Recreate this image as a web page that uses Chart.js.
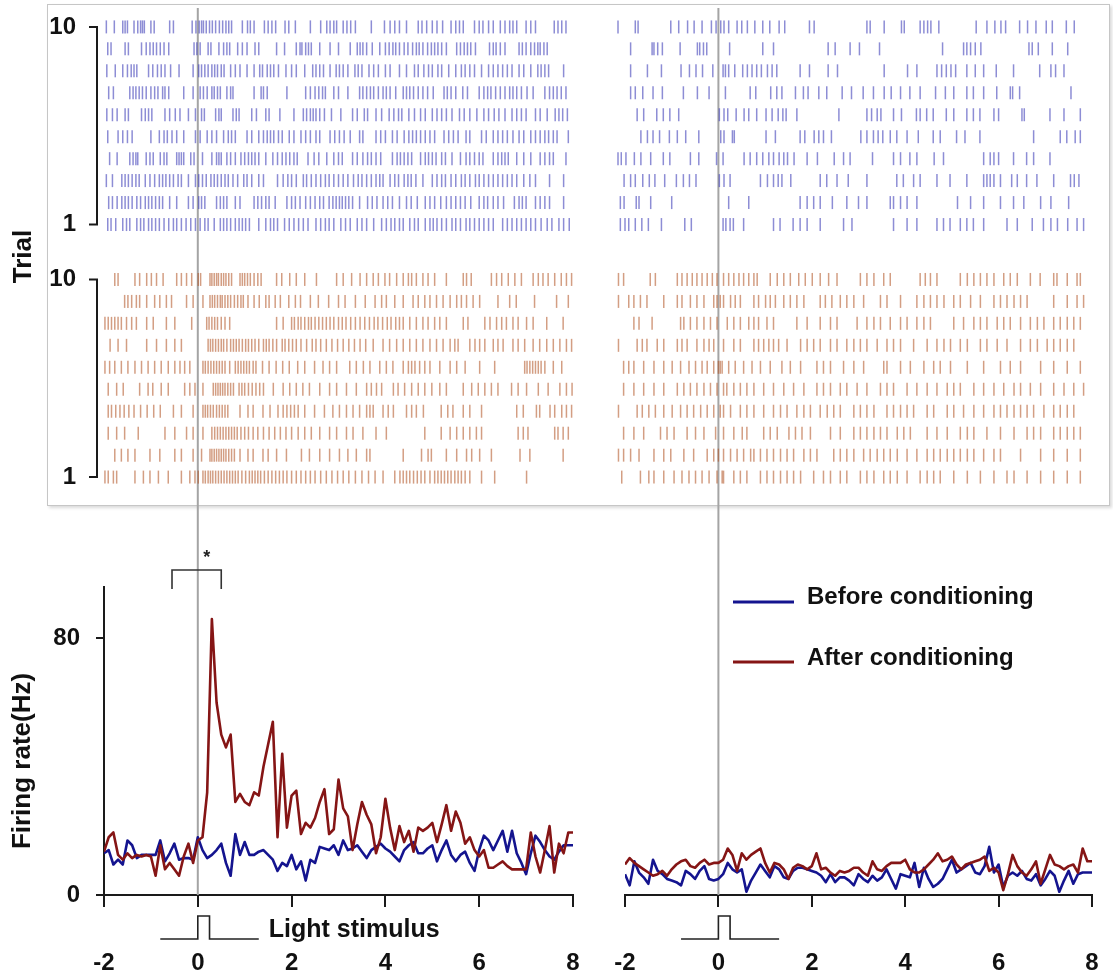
<!DOCTYPE html>
<html>
<head>
<meta charset="utf-8">
<title>Spike rasters and firing rate before / after conditioning</title>
<script src="https://cdn.jsdelivr.net/npm/chart.js@4.4.1/dist/chart.umd.min.js"></script>
<style>
  html, body { margin: 0; padding: 0; background: #fff; }
  #page { position: relative; width: 1113px; height: 975px; overflow: hidden; }
  #rasterBox { position: absolute; left: 47px; top: 4px; width: 1061px; height: 500px;
    border: 1px solid #c6c6c6; box-shadow: 2px 2px 3px rgba(0, 0, 0, 0.15); }
  canvas { position: absolute; }
</style>
</head>
<body>
<div id="page">
  <div id="rasterBox"></div>
  <canvas id="rasterLeft" width="600" height="540" style="left:0;top:0"></canvas>
  <canvas id="rasterRight" width="513" height="540" style="left:600px;top:0"></canvas>
  <canvas id="rateLeft" width="600" height="435" style="left:0;top:540px"></canvas>
  <canvas id="rateRight" width="513" height="435" style="left:600px;top:540px"></canvas>
</div>
<script>
const FONT = '"Liberation Sans", Arial, Helvetica, sans-serif';
Chart.defaults.font.family = FONT;
Chart.defaults.color = '#111';

// time axis (s)
const timeMin = -2;
const timeMax = 8;
const timeTicks = [-2, 0, 2, 4, 6, 8];
const binStart = -2;
const binWidth = 0.1;

// firing rate axis (Hz)
const rateMax = 96;
const rateTicks = [0, 80];
const trialTicks = [1, 10];

// light stimulus and significance bracket (s)
const stimOn = 0;
const stimOff = 0.25;
const stimTrace = [-0.8, 1.3];
const sigBracket = [-0.55, 0.5];
const sigMarkAt = 0.19;

const seriesNames = ['Before conditioning', 'After conditioning'];
const lineColors = ['#14148f', '#851515'];
const spikeColors = ['rgba(65, 65, 185, 0.6)', 'rgba(175, 78, 30, 0.55)'];

// firing rate, 0.1 s bins from -2 to 8 s
const beforeLeftRate = [
  13, 14, 9.5, 11, 9.5, 17, 15.5, 11.5, 12.5, 12.5,
  12.5, 12.5, 17, 10.5, 13, 16, 11, 11.5, 11.5, 11,
  18, 14, 11.5, 12.5, 14, 16, 10, 6, 19, 12.5,
  16.5, 12.5, 12.5, 13.5, 14, 12.5, 11, 7.5, 10, 9,
  12.5, 8, 10.5, 4.5, 11, 10, 15, 14.5, 14, 15.5,
  12.5, 17, 14, 14.5, 15.5, 13.5, 11.5, 14, 15, 16,
  14.5, 13.5, 12, 10.5, 14, 15.5, 16.5, 13, 13, 14.5,
  15.5, 10.5, 14, 17, 12.5, 10.5, 12.5, 13.5, 10, 7.5,
  14, 18.5, 17, 14, 17, 20, 13.5, 20, 13, 10,
  6.5, 13, 18.5, 16.5, 14, 12, 11, 13.5, 15.5, 15.5,
  15.5
];
const afterLeftRate = [
  13.5, 18, 19.5, 12.5, 11, 13, 11.5, 12.5, 12, 12.5,
  12, 6, 15.5, 8, 10, 8, 6, 12, 16, 10,
  17, 18, 32, 86, 60, 50, 46, 50, 29, 31.5,
  29, 28, 32, 31, 40, 47, 54, 18, 44, 21,
  31, 32.5, 19, 22.5, 21, 24, 29, 33, 19, 20.5,
  36, 27, 24.5, 14, 22, 29, 25, 22, 13, 18,
  30, 21, 14, 21.5, 16.5, 20, 13.5, 21, 20, 21,
  22.5, 16.5, 22, 28, 20, 26, 22.5, 16, 18, 14,
  12, 14, 8.5, 8.5, 9.5, 10.5, 9, 8, 8, 8,
  8, 19.5, 12, 7, 14, 21.5, 7, 16, 13, 19.5,
  19.5
];
const beforeRightRate = [
  6.5, 3, 10.5, 7, 5.5, 3.5, 11, 7.5, 6.5, 5,
  4.5, 4, 3, 7.5, 6.5, 5, 7.5, 9, 5, 4.5,
  5, 6.5, 10, 8, 7, 8, 1, 4.5, 7, 9.5,
  7.5, 5.5, 9, 8, 5.5, 5, 7.5, 8.5, 8.5, 8,
  7.5, 7, 6, 4, 6.5, 4, 5.5, 5.5, 4.5, 3,
  6.5, 5, 4, 6, 4.5, 5.5, 8, 5, 2, 6.5,
  6, 5.5, 10, 2.5, 8.5, 5, 2.5, 3.5, 5, 8,
  11, 7, 8, 9, 10, 7, 6.5, 9, 15, 7,
  9.5, 2.5, 6, 7, 6, 7.5, 5, 4.5, 6.5, 3,
  5, 7.5, 6, 1, 4.5, 7.5, 3.5, 6.5, 7, 7,
  7
];
const afterRightRate = [
  9.5, 11.5, 10, 9, 8, 7, 6, 6.5, 7.5, 6,
  8, 9.5, 10.5, 11, 9, 8.5, 10, 11, 9.5, 10,
  10, 11, 14.5, 12.5, 7.5, 13, 11, 12.5, 13.5, 14.5,
  10, 7, 10, 9.5, 8, 5, 8.5, 9.5, 9, 8,
  9, 13, 8, 8.5, 7, 6, 7.5, 7, 7.5, 8.5,
  8.5, 7, 6, 10.5, 8, 7.5, 9, 10, 10, 10,
  11, 8, 7, 7, 8, 9.5, 11, 13, 10.5, 11,
  12, 9.5, 8, 9.5, 10, 10.5, 11, 12, 7.5, 8.5,
  7, 1.5, 6.5, 12.5, 9, 7, 6, 8, 10.5, 3.5,
  8, 12.5, 9.5, 9, 8, 9, 9.5, 7, 14.5, 10.5,
  10.5
];

// spike times (s), one list per trial, trial 10 first
const beforeLeftSpikes = [
  [-1.95,-1.78,-1.6,-1.55,-1.5,-1.36,-1.28,-1.22,-1.18,-1.14,-1,-0.93,-0.6,-0.52,-0.12,-0.04,0.03,0.08,0.12,0.18,0.25,0.31,0.38,0.46,0.53,0.6,0.66,0.72,0.95,1.06,1.12,1.2,1.42,1.5,1.58,1.66,1.86,1.94,2.08,2.4,2.62,2.75,2.82,2.9,2.96,3.1,3.18,3.26,3.36,3.7,3.98,4.1,4.2,4.3,4.45,4.7,4.78,4.88,5,5.1,5.22,5.4,5.5,5.58,5.66,5.9,6,6.08,6.2,6.3,6.45,6.55,6.65,6.72,6.8,7,7.1,7.2,7.6,7.68,7.76,7.85],
  [-1.92,-1.85,-1.55,-1.48,-1.2,-1.1,-1.02,-0.95,-0.88,-0.8,-0.72,-0.62,-0.08,-0.02,0.05,0.22,0.28,0.45,0.55,0.62,0.68,0.85,0.95,1.05,1.22,1.3,1.68,1.85,2.1,2.18,2.22,2.3,2.36,2.42,2.6,2.82,3,3.25,3.4,3.46,3.52,3.6,3.72,3.88,4,4.08,4.16,4.22,4.3,4.4,4.48,4.58,4.66,4.72,4.8,4.9,4.98,5.05,5.12,5.2,5.3,5.52,5.6,5.68,5.75,5.82,5.92,6.22,6.3,6.36,6.45,6.55,6.85,6.92,7,7.1,7.18,7.25,7.3,7.38,7.45],
  [-1.94,-1.76,-1.6,-1.5,-1.42,-1.36,-1.3,-1.05,-0.96,-0.86,-0.78,-0.7,-0.58,-0.4,-0.1,0.02,0.08,0.15,0.22,0.3,0.36,0.42,0.5,0.56,0.7,0.8,0.9,1.05,1.2,1.32,1.38,1.48,1.55,1.62,1.72,1.88,2,2.1,2.28,2.45,2.52,2.6,2.68,2.82,2.95,3.02,3.1,3.2,3.35,3.42,3.5,3.65,3.75,3.85,4,4.1,4.3,4.45,4.62,4.7,4.82,4.92,5,5.12,5.2,5.35,5.5,5.62,5.7,5.8,5.9,6.05,6.2,6.3,6.4,6.5,6.6,6.7,6.85,6.95,7.1,7.25,7.32,7.4,7.48,7.8],
  [-1.9,-1.8,-1.45,-1.38,-1.32,-1.25,-1.18,-1.1,-1,-0.92,-0.85,-0.75,-0.7,-0.62,-0.3,-0.1,0.05,0.12,0.2,0.3,0.35,0.42,0.48,0.62,0.7,0.75,1.2,1.35,1.4,1.48,1.9,2.3,2.4,2.5,2.58,2.66,2.72,2.9,3,3.2,3.45,3.52,3.6,3.68,3.75,3.85,3.95,4.02,4.1,4.22,4.38,4.45,4.52,4.6,4.7,4.8,4.9,5.02,5.25,5.32,5.4,5.5,5.65,5.75,6,6.1,6.18,6.25,6.35,6.45,6.55,6.65,6.72,6.8,6.9,7.02,7.15,7.4,7.5,7.58,7.66,7.75,7.85],
  [-1.94,-1.82,-1.72,-1.55,-1.48,-1.2,-1.12,-1.05,-0.98,-0.7,-0.6,-0.48,-0.38,-0.2,-0.05,0.08,0.14,0.38,0.45,0.5,0.75,0.82,0.88,1.15,1.25,1.45,1.52,1.75,2.05,2.25,2.32,2.4,2.46,2.52,2.6,2.7,2.85,3.05,3.3,3.4,3.55,3.62,3.8,3.92,4.08,4.18,4.28,4.35,4.5,4.62,4.75,4.85,5,5.1,5.2,5.3,5.42,5.58,5.68,5.8,5.95,6.1,6.2,6.32,6.42,6.55,6.7,6.8,6.9,7,7.2,7.3,7.45,7.62,7.7,7.78,7.88],
  [-1.92,-1.7,-1.6,-1.5,-1.4,-1,-0.82,-0.72,-0.65,-0.55,-0.45,-0.3,-0.05,0.05,0.2,0.3,0.4,0.55,0.65,0.72,0.8,1.05,1.15,1.3,1.4,1.48,1.55,1.62,1.72,1.8,1.95,2.05,2.2,2.3,2.4,2.52,2.6,2.82,2.92,3.02,3.12,3.25,3.45,3.52,3.8,3.9,4,4.15,4.25,4.4,4.5,4.58,4.66,4.75,4.85,4.95,5.05,5.25,5.35,5.45,5.55,5.72,5.8,6.05,6.15,6.3,6.4,6.5,6.6,6.72,6.85,6.95,7.1,7.2,7.3,7.4,7.48,7.58,7.66,7.9],
  [-1.88,-1.72,-1.45,-1.38,-1.32,-1.28,-1.1,-1.02,-0.95,-0.8,-0.72,-0.66,-0.45,-0.4,-0.35,-0.3,-0.15,-0.08,0.1,0.3,0.4,0.45,0.5,0.62,0.7,0.8,0.92,1,1.08,1.15,1.22,1.3,1.45,1.6,1.7,1.8,1.88,1.96,2.05,2.12,2.35,2.48,2.58,2.75,2.9,3,3.08,3.3,3.4,3.52,3.62,3.7,3.8,3.9,4.15,4.25,4.32,4.4,4.48,4.56,4.75,4.85,4.92,5,5.08,5.2,5.28,5.42,5.6,5.72,5.8,5.9,6,6.08,6.3,6.4,6.48,6.55,6.62,6.8,6.95,7.1,7.3,7.4,7.5,7.58,7.85],
  [-1.95,-1.82,-1.62,-1.55,-1.48,-1.4,-1.32,-1.25,-1.12,-1.02,-0.92,-0.82,-0.75,-0.68,-0.6,-0.52,-0.42,-0.35,-0.2,-0.05,0.02,0.1,0.18,0.28,0.35,0.42,0.5,0.58,0.65,0.75,0.85,0.98,1.05,1.15,1.3,1.4,1.7,1.82,1.92,2,2.1,2.25,2.32,2.42,2.52,2.62,2.72,2.8,2.9,3,3.1,3.2,3.32,3.42,3.5,3.6,3.7,3.8,3.88,3.95,4.1,4.2,4.28,4.4,4.48,4.55,4.65,4.8,5,5.1,5.2,5.28,5.4,5.5,5.62,5.7,5.8,5.92,6,6.1,6.2,6.3,6.4,6.5,6.6,6.7,6.8,6.95,7.08,7.2,7.5,7.8],
  [-1.9,-1.82,-1.72,-1.62,-1.55,-1.48,-1.4,-1.3,-1.22,-1.12,-1.05,-0.98,-0.9,-0.82,-0.75,-0.6,-0.45,-0.2,-0.1,0.02,0.08,0.15,0.4,0.48,0.55,0.62,0.8,0.9,1.2,1.28,1.36,1.45,1.52,1.65,1.9,2,2.08,2.18,2.3,2.4,2.5,2.6,2.68,2.8,2.88,2.95,3.02,3.08,3.15,3.22,3.3,3.45,3.62,3.72,3.82,3.95,4.05,4.15,4.3,4.45,4.55,4.68,4.85,4.95,5.05,5.18,5.3,5.4,5.5,5.6,5.7,5.82,6,6.1,6.18,6.3,6.4,6.52,6.75,6.85,6.92,7,7.2,7.3,7.4,7.5,7.8],
  [-1.92,-1.85,-1.75,-1.6,-1.52,-1.45,-1.3,-1.22,-1.15,-1.05,-0.98,-0.9,-0.82,-0.72,-0.62,-0.52,-0.45,-0.35,-0.25,-0.15,-0.05,0.05,0.15,0.22,0.35,0.48,0.55,0.62,0.7,0.8,0.88,0.95,1.02,1.1,1.3,1.45,1.55,1.62,1.7,1.85,1.95,2.05,2.15,2.25,2.35,2.52,2.62,2.72,2.8,2.9,3.05,3.15,3.25,3.4,3.5,3.6,3.75,3.92,4.02,4.12,4.2,4.3,4.38,4.52,4.62,4.7,4.85,4.95,5.02,5.1,5.2,5.3,5.42,5.5,5.6,5.72,5.8,5.9,6,6.1,6.2,6.3,6.5,6.6,6.7,6.8,6.9,7,7.1,7.2,7.32,7.45,7.55,7.7,7.8,7.92]
];
const beforeRightSpikes = [
  [-2.15,-1.78,-1.72,-1.02,-0.85,-0.66,-0.52,-0.35,-0.15,-0.05,0.05,0.12,0.22,0.4,0.5,0.62,0.78,0.95,1.1,1.3,1.42,1.95,2.05,3.18,3.25,3.55,3.92,3.98,4.32,4.4,4.48,4.55,4.72,5.52,5.75,5.92,6.05,6.15,6.45,6.62,6.8,7.02,7.15,7.45,7.62],
  [-1.88,-1.42,-1.38,-1.3,-1.2,-0.82,-0.45,-0.4,-0.32,-0.25,0.24,0.95,1.18,2.35,2.5,2.82,3.02,3.45,4.8,5.25,5.32,5.4,5.5,5.62,6.65,6.72,6.85,7.15,7.48],
  [-1.88,-1.52,-1.22,-0.8,-0.62,-0.48,-0.34,-0.12,0.1,0.15,0.22,0.35,0.52,0.62,0.72,0.82,0.92,1.05,1.15,1.25,1.75,1.95,2.35,2.55,3.55,4.05,4.25,4.68,4.78,4.88,4.98,5.08,5.32,5.5,5.68,5.95,6.32,6.88,7.12,7.22,7.4],
  [-1.88,-1.78,-1.62,-1.4,-1.2,-0.75,-0.45,-0.2,0.15,0.68,0.8,1.12,1.25,1.36,1.65,1.82,1.92,2.15,2.32,2.65,2.85,3.1,3.32,3.55,3.7,3.9,4.1,4.32,4.65,4.86,5.04,5.32,5.46,5.68,5.96,6.25,6.3,6.45,7.55],
  [-1.74,-1.6,-1.32,-1.18,-1.04,-0.85,0.02,0.12,0.2,0.38,0.55,0.65,0.82,1.02,1.15,1.28,1.38,1.45,1.68,2.58,3.18,3.28,3.4,3.48,3.75,3.92,4.24,4.32,4.46,4.6,4.88,5.04,5.32,5.46,5.6,5.9,6,6.5,6.55,7.1,7.4,7.75],
  [-1.66,-1.52,-1.4,-1.26,-1.05,-0.88,-0.7,-0.42,0.05,0.12,0.3,0.34,1.02,1.22,1.75,1.85,2.05,2.15,2.25,2.42,3.05,3.18,3.32,3.42,3.52,3.68,3.82,4.04,4.28,4.6,4.75,5.1,5.28,5.6,6.75,7.32,7.46,7.64,7.75],
  [-2.15,-2.08,-1.98,-1.8,-1.66,-1.45,-1.18,-1.04,-0.6,-0.42,-0.04,0.1,0.55,0.68,0.82,0.95,1.08,1.18,1.3,1.4,1.48,1.62,1.9,2.12,2.48,2.68,2.82,3.3,3.75,3.9,4.1,4.25,4.62,4.82,5.68,5.82,5.9,6,6.32,6.6,6.75,7.1],
  [-2.02,-1.88,-1.78,-1.62,-1.48,-1.36,-1.15,-0.9,-0.75,-0.62,-0.48,0.02,0.12,0.25,0.9,1.05,1.18,1.28,1.36,1.55,2.18,2.32,2.54,2.78,3.18,3.82,3.96,4.18,4.32,4.68,4.96,5.32,5.68,5.75,5.82,5.9,6.04,6.28,6.4,6.6,6.82,7.18,7.54,7.62,7.72],
  [-2.1,-2.02,-1.76,-1.7,-1.45,-1,0.22,0.65,1.75,1.9,2.04,2.18,2.44,2.75,3,3.18,3.68,3.75,3.9,4.04,4.25,5.12,5.4,5.68,6.04,6.32,6.54,6.9,7.12,7.5],
  [-2.1,-2,-1.92,-1.78,-1.64,-1.5,-1.22,-0.72,-0.58,0.1,0.16,0.25,0.32,0.54,1.18,1.32,1.6,1.75,1.9,2.18,2.68,2.86,3.75,4.04,4.25,4.68,4.82,4.96,5.18,5.32,5.46,5.68,6.18,6.4,6.72,6.96,7.12,7.26,7.48,7.68,7.82]
];
const afterLeftSpikes = [
  [-1.77,-1.7,-1.34,-1.24,-1.09,-0.99,-0.88,-0.74,-0.45,-0.35,-0.24,-0.13,0.01,0.06,0.26,0.3,0.35,0.4,0.44,0.5,0.55,0.6,0.66,0.72,0.9,0.95,1,1.06,1.12,1.2,1.28,1.35,1.68,1.79,1.96,2.1,2.28,2.53,2.96,3.1,3.28,3.46,3.6,3.74,3.85,3.99,4.09,4.24,4.38,4.49,4.56,4.66,4.8,4.91,5.05,5.3,5.66,5.73,5.83,6.26,6.37,6.48,6.62,6.76,6.9,7.15,7.26,7.36,7.47,7.61,7.75,7.86,7.97],
  [-1.56,-1.49,-1.41,-1.31,-1.24,-1.09,-0.92,-0.81,-0.67,-0.56,-0.24,-0.1,0.11,0.26,0.31,0.36,0.42,0.48,0.52,0.58,0.64,0.7,0.78,0.85,0.92,0.97,1.07,1.2,1.31,1.45,1.52,1.65,1.76,1.94,2.08,2.19,2.4,2.57,2.79,3,3.14,3.36,3.57,3.78,3.92,4.02,4.2,4.38,4.59,4.7,4.84,4.95,5.09,5.23,5.38,5.52,5.62,5.73,5.87,6.01,6.4,6.65,6.79,7.18,7.65,7.9],
  [-1.98,-1.91,-1.84,-1.77,-1.7,-1.63,-1.52,-1.41,-1.31,-1.09,-0.95,-0.67,-0.49,-0.13,0.19,0.24,0.3,0.36,0.42,0.5,0.58,0.68,1.68,1.82,2,2.06,2.14,2.2,2.28,2.36,2.42,2.5,2.58,2.66,2.74,2.82,2.9,3,3.08,3.16,3.26,3.36,3.46,3.56,3.66,3.76,3.84,3.94,4.04,4.12,4.22,4.3,4.38,4.52,4.66,4.8,4.91,5.05,5.16,5.3,5.66,5.76,6.12,6.23,6.37,6.48,6.58,6.72,6.83,7.01,7.15,7.44,7.79],
  [-1.87,-1.7,-1.52,-1.09,-0.88,-0.67,-0.49,-0.35,0.22,0.27,0.32,0.38,0.44,0.5,0.55,0.62,0.7,0.76,0.82,0.88,0.95,1.02,1.08,1.15,1.22,1.3,1.4,1.46,1.52,1.6,1.68,1.8,1.86,1.94,2.02,2.1,2.2,2.32,2.44,2.52,2.62,2.74,2.86,2.98,3.1,3.22,3.34,3.46,3.58,3.74,3.95,4.09,4.24,4.38,4.52,4.66,4.8,4.95,5.09,5.23,5.38,5.48,5.55,5.8,5.91,6.01,6.12,6.3,6.4,6.51,6.72,6.83,6.97,7.15,7.29,7.44,7.58,7.72,7.86,7.97],
  [-1.98,-1.88,-1.77,-1.63,-1.49,-1.34,-1.2,-1.06,-0.92,-0.78,-0.63,-0.49,-0.38,-0.28,-0.17,0.11,0.16,0.22,0.28,0.34,0.4,0.46,0.52,0.58,0.68,0.8,0.86,0.92,0.98,1.04,1.1,1.18,1.24,1.38,1.52,1.67,1.81,1.95,2.13,2.28,2.49,2.67,2.81,2.96,3.24,3.38,3.53,3.67,3.88,4.02,4.16,4.38,4.49,4.56,4.63,4.73,4.84,4.95,5.16,5.38,5.52,5.7,6.01,6.33,6.97,7.02,7.08,7.14,7.2,7.26,7.32,7.4,7.58,7.76],
  [-1.91,-1.73,-1.59,-1.24,-1.06,-0.96,-0.78,-0.63,-0.28,-0.17,-0.06,0.11,0.33,0.38,0.43,0.48,0.53,0.58,0.64,0.7,0.76,0.88,0.94,1,1.08,1.16,1.24,1.32,1.4,1.61,1.82,1.96,2.1,2.24,2.38,2.6,2.81,2.96,3.17,3.38,3.6,3.7,3.81,3.92,4.17,4.27,4.41,4.56,4.7,4.84,4.99,5.16,5.3,5.66,5.84,5.98,6.12,6.26,6.4,6.69,6.83,7.01,7.26,7.47,7.72,7.86,7.98],
  [-1.91,-1.84,-1.75,-1.66,-1.57,-1.47,-1.36,-1.22,-1.08,-0.94,-0.8,-0.52,-0.35,-0.1,0.11,0.16,0.21,0.27,0.33,0.4,0.46,0.52,0.58,0.64,0.9,1.07,1.18,1.39,1.54,1.71,1.82,1.9,1.98,2.06,2.14,2.28,2.49,2.7,2.88,3.02,3.17,3.31,3.45,3.6,3.67,3.74,3.95,4.06,4.17,4.45,4.56,4.66,4.81,5.19,5.33,5.44,5.66,5.8,6.05,6.8,6.94,7.22,7.29,7.51,7.61,7.76,7.86,7.97],
  [-1.91,-1.73,-1.56,-1.27,-0.7,-0.49,-0.24,-0.1,0.11,0.3,0.36,0.42,0.48,0.54,0.6,0.66,0.72,0.78,0.84,0.92,1,1.08,1.18,1.28,1.4,1.52,1.64,1.76,1.88,2,2.14,2.28,2.42,2.6,2.81,2.96,3.17,3.31,3.52,3.8,4.02,4.84,5.19,5.38,5.52,5.66,5.8,5.94,6.05,6.83,6.94,7.04,7.61,7.68,7.79,7.9],
  [-1.77,-1.63,-1.49,-1.34,-1.02,-0.81,-0.49,-0.35,-0.1,0.08,0.26,0.3,0.35,0.4,0.45,0.5,0.55,0.6,0.66,0.72,0.78,0.9,1.07,1.18,1.39,1.5,1.68,1.89,2.21,2.38,2.6,2.81,3.02,3.2,3.38,3.6,3.67,4.38,4.77,4.91,4.98,5.3,5.52,5.73,5.84,6.01,6.26,6.87,7.08,7.79],
  [-1.98,-1.91,-1.8,-1.73,-1.34,-1.16,-1.02,-0.84,-0.63,-0.35,-0.17,-0.06,0.01,0.11,0.16,0.22,0.27,0.32,0.38,0.44,0.5,0.56,0.62,0.68,0.74,0.8,0.86,0.94,1.02,1.1,1.16,1.22,1.28,1.34,1.42,1.5,1.58,1.66,1.74,1.82,1.9,2,2.1,2.2,2.3,2.4,2.5,2.62,2.74,2.86,2.98,3.1,3.22,3.36,3.5,3.64,3.78,3.95,4.2,4.31,4.38,4.45,4.52,4.6,4.68,4.76,4.84,4.95,5.05,5.12,5.19,5.26,5.33,5.4,5.48,5.55,5.62,5.7,5.8,6.05,6.33,7.01]
];
const afterRightSpikes = [
  [-2.14,-2.03,-1.46,-1.35,-0.88,-0.78,-0.67,-0.56,-0.46,-0.35,-0.24,-0.13,-0.03,0.11,0.22,0.33,0.44,0.54,0.65,0.76,0.83,1.11,1.26,1.4,1.54,1.72,1.86,2.01,2.18,2.36,2.54,3.04,3.18,3.33,3.54,3.68,4.32,4.43,4.54,4.68,5.18,5.33,5.47,5.61,5.75,5.9,6.11,6.25,6.4,6.68,6.89,7.18,7.25,7.47,7.68,7.75],
  [-2.14,-1.92,-1.81,-1.67,-1.53,-1.17,-0.88,-0.78,-0.6,-0.46,-0.31,-0.1,-0.03,0.04,0.11,0.26,0.36,0.47,0.76,0.86,1.01,1.11,1.22,1.4,1.54,1.68,1.83,2.18,2.29,2.43,2.61,2.75,2.9,3.11,3.47,3.61,3.9,4.25,4.4,4.54,4.68,4.83,5.04,5.18,5.4,5.61,5.9,6.04,6.18,6.33,6.47,6.61,7.18,7.47,7.68,7.82],
  [-1.81,-1.7,-1.42,-0.81,-0.74,-0.6,-0.46,-0.31,-0.17,-0.03,0.19,0.33,0.47,0.65,0.76,0.86,1.04,1.18,1.68,1.9,2.18,2.4,2.54,2.97,3.18,3.33,3.47,3.68,3.9,4.04,4.25,4.4,4.54,5.04,5.25,5.47,5.61,5.75,5.97,6.11,6.25,6.47,6.68,6.83,6.97,7.18,7.32,7.47,7.61,7.75],
  [-2.14,-1.74,-1.63,-1.53,-1.31,-1.17,-0.88,-0.78,-0.67,-0.46,-0.31,-0.2,-0.1,0.11,0.33,0.47,0.76,0.86,0.97,1.08,1.18,1.29,1.47,1.76,1.9,2.04,2.18,2.4,2.54,2.75,2.9,3.04,3.18,3.4,3.61,3.75,3.9,4.18,4.47,4.68,4.83,4.97,5.18,5.33,5.61,5.75,5.97,6.18,6.47,6.68,6.83,7.04,7.18,7.32,7.47,7.61],
  [-2.03,-1.92,-1.81,-1.6,-1.38,-1.17,-0.99,-0.81,-0.63,-0.49,-0.35,-0.24,-0.1,0,0.04,0.08,0.22,0.36,0.54,0.72,0.9,1.11,1.36,1.54,1.76,2.11,2.25,2.4,2.68,2.9,3.11,3.54,3.61,3.9,4.11,4.4,4.61,4.75,4.97,5.33,5.68,6.04,6.25,6.47,6.9,7.18,7.47,7.75],
  [-2.03,-1.81,-1.6,-1.38,-1.17,-0.88,-0.74,-0.6,-0.46,-0.31,-0.17,-0.03,0.11,0.18,0.33,0.47,0.61,0.76,0.97,1.18,1.4,1.61,1.83,2.11,2.25,2.4,2.61,2.75,2.97,3.18,3.47,3.61,3.75,4.04,4.25,4.47,4.68,4.9,5.04,5.18,5.47,5.68,5.9,6.11,6.33,6.47,6.68,6.9,7.18,7.4,7.61,7.82],
  [-2.14,-1.74,-1.63,-1.49,-1.35,-1.17,-0.99,-0.81,-0.67,-0.53,-0.38,-0.24,-0.1,0.04,0.11,0.26,0.47,0.61,0.76,0.97,1.18,1.33,1.47,1.68,1.83,1.97,2.18,2.33,2.47,2.61,2.9,3.04,3.18,3.33,3.61,3.75,3.9,4.04,4.18,4.47,4.61,4.9,5.04,5.25,5.47,5.68,5.9,6.04,6.18,6.33,6.47,6.61,6.75,6.97,7.18,7.32,7.47,7.61],
  [-2.03,-1.81,-1.6,-1.24,-1.1,-0.95,-0.67,-0.49,-0.31,-0.06,0.11,0.33,0.51,0.61,0.97,1.11,1.26,1.51,1.65,1.79,1.97,2.4,2.61,2.9,3.04,3.18,3.33,3.47,3.61,3.83,3.97,4.11,4.47,4.68,4.9,5.18,5.33,5.47,5.75,6.04,6.33,6.61,6.75,6.9,7.18,7.32,7.47,7.61,7.75],
  [-2.14,-2.03,-1.88,-1.7,-1.38,-1.17,-1.02,-0.74,-0.53,-0.24,-0.1,0,0.11,0.26,0.4,0.54,0.69,0.76,0.9,1.04,1.18,1.33,1.47,1.61,1.83,1.97,2.11,2.47,2.61,2.75,2.9,3.11,3.25,3.4,3.54,3.68,3.83,4.04,4.25,4.47,4.61,4.75,4.9,5.04,5.18,5.33,5.47,5.68,5.9,6.04,6.47,6.9,7.18,7.47,7.75],
  [-2.07,-1.67,-1.49,-1.38,-1.17,-0.95,-0.78,-0.63,-0.49,-0.35,-0.2,-0.03,0.08,0.11,0.33,0.47,0.61,0.9,1.04,1.18,1.33,1.47,1.61,1.76,2.04,2.25,2.4,2.61,2.75,3.04,3.18,3.33,3.54,3.68,3.83,4.04,4.32,4.47,4.61,4.75,5.04,5.33,5.61,5.9,6.18,6.33,6.61,6.9,7.18,7.47,7.75]
];

// raster rows: after-conditioning trials sit below, before-conditioning above
const afterRow = trial => trial;
const beforeRow = trial => trial + 11.5;
const rasterMin = -0.27;
const rasterMax = 22.36;

function spikeDataset(trials, rowOf, color, label) {
  const points = [];
  trials.forEach((spikes, i) => {
    const trial = trials.length - i;
    spikes.forEach(t => points.push({x: t, y: rowOf(trial)}));
  });
  return {
    label,
    data: points,
    pointStyle: 'line',
    pointRotation: 90,
    pointRadius: 6.5,
    pointHoverRadius: 6.5,
    pointBorderWidth: 1.5,
    borderWidth: 1.5,
    borderColor: color,
    pointBorderColor: color,
    backgroundColor: color,
    clip: false,
  };
}

function rateDataset(values, label, color, order) {
  return {
    label,
    order,
    data: values.map((v, i) => ({x: binStart + i * binWidth, y: v})),
    borderColor: color,
    backgroundColor: color,
    borderWidth: 2.6,
    borderJoinStyle: 'round',
    pointRadius: 0,
    tension: 0,
    fill: false,
  };
}

// fixed axis width; hidden axes take no room
const fixWidth = w => s => {
  s.width = s.options.display ? w : 0;
  s.paddingLeft = 0; s.paddingRight = 0; s.paddingTop = 0; s.paddingBottom = 0;
};
const fixHeight = h => s => {
  s.height = s.options.display ? h : 0;
  s.paddingLeft = 0; s.paddingRight = 0; s.paddingTop = 0; s.paddingBottom = 0;
};

const zeroLine = {
  id: 'zeroLine',
  beforeDatasetsDraw(chart, args, opts) {
    const {ctx, chartArea} = chart;
    const x = chart.scales.x.getPixelForValue(stimOn);
    const top = opts.raster ? chartArea.top : 0;
    const bottom = opts.raster ? chart.height : chartArea.bottom;
    ctx.save();
    ctx.strokeStyle = '#a4a4a4';
    ctx.lineWidth = 2;
    ctx.beginPath();
    ctx.moveTo(x, top);
    ctx.lineTo(x, bottom);
    ctx.stroke();
    ctx.restore();
  }
};

const trialBrackets = {
  id: 'trialBrackets',
  afterDraw(chart) {
    const {ctx} = chart;
    const y = chart.scales.y;
    const right = chart.chartArea.left - 7;
    ctx.save();
    ctx.strokeStyle = '#1a1a1a';
    ctx.lineWidth = 2;
    [[beforeRow(10), beforeRow(1)], [afterRow(10), afterRow(1)]].forEach(([a, b]) => {
      const ya = y.getPixelForValue(a);
      const yb = y.getPixelForValue(b);
      ctx.beginPath();
      ctx.moveTo(right - 8, ya);
      ctx.lineTo(right, ya);
      ctx.lineTo(right, yb);
      ctx.lineTo(right - 8, yb);
      ctx.stroke();
    });
    ctx.restore();
  }
};

const stimulusTrace = {
  id: 'stimulusTrace',
  afterDraw(chart, args, opts) {
    const {ctx, chartArea} = chart;
    const x = chart.scales.x;
    const base = chartArea.bottom + 44;
    const high = chartArea.bottom + 21;
    ctx.save();
    ctx.strokeStyle = '#222';
    ctx.lineWidth = 1.6;
    ctx.beginPath();
    ctx.moveTo(x.getPixelForValue(stimTrace[0]), base);
    ctx.lineTo(x.getPixelForValue(stimOn), base);
    ctx.lineTo(x.getPixelForValue(stimOn), high);
    ctx.lineTo(x.getPixelForValue(stimOff), high);
    ctx.lineTo(x.getPixelForValue(stimOff), base);
    ctx.lineTo(x.getPixelForValue(stimTrace[1]), base);
    ctx.stroke();
    if (opts.label) {
      ctx.fillStyle = '#111';
      ctx.font = 'bold 25px ' + FONT;
      ctx.textAlign = 'left';
      ctx.textBaseline = 'alphabetic';
      ctx.fillText(opts.label, x.getPixelForValue(stimTrace[1]) + 10, chartArea.bottom + 42);
    }
    ctx.restore();
  }
};

const significance = {
  id: 'significance',
  afterDraw(chart) {
    const {ctx, chartArea} = chart;
    const x = chart.scales.x;
    const xa = x.getPixelForValue(sigBracket[0]);
    const xb = x.getPixelForValue(sigBracket[1]);
    const y0 = chartArea.top - 17;
    const y1 = chartArea.top + 2;
    ctx.save();
    ctx.strokeStyle = '#333';
    ctx.lineWidth = 1.6;
    ctx.beginPath();
    ctx.moveTo(xa, y1);
    ctx.lineTo(xa, y0);
    ctx.lineTo(xb, y0);
    ctx.lineTo(xb, y1);
    ctx.stroke();
    ctx.fillStyle = '#222';
    ctx.font = 'bold 18px ' + FONT;
    ctx.textAlign = 'center';
    ctx.textBaseline = 'alphabetic';
    ctx.fillText('*', x.getPixelForValue(sigMarkAt), chartArea.top - 24);
    ctx.restore();
  }
};

const rateTitle = {
  id: 'rateTitle',
  afterDraw(chart, args, opts) {
    const {ctx} = chart;
    ctx.save();
    ctx.translate(23, 221);
    ctx.rotate(-Math.PI / 2);
    ctx.fillStyle = '#111';
    ctx.font = 'bold 26px ' + FONT;
    ctx.textAlign = 'center';
    ctx.textBaseline = 'middle';
    ctx.fillText(opts.text, 0, 0);
    ctx.restore();
  }
};

const lineLegend = {
  id: 'lineLegend',
  afterDraw(chart) {
    const {ctx, chartArea} = chart;
    const x0 = chartArea.left + 108;
    ctx.save();
    chart.data.datasets.forEach((ds, i) => {
      const y = 62 + i * 60;
      ctx.strokeStyle = ds.borderColor;
      ctx.lineWidth = 3;
      ctx.beginPath();
      ctx.moveTo(x0, y);
      ctx.lineTo(x0 + 61, y);
      ctx.stroke();
      ctx.fillStyle = '#111';
      ctx.font = 'bold 24px ' + FONT;
      ctx.textAlign = 'left';
      ctx.textBaseline = 'alphabetic';
      ctx.fillText(ds.label, x0 + 74, y + 2 + i);
    });
    ctx.restore();
  }
};

function rasterChart(id, beforeTrials, afterTrials, xMin, padLeft, padRight, withAxis) {
  return new Chart(document.getElementById(id), {
    type: 'scatter',
    data: {
      datasets: [
        spikeDataset(beforeTrials, beforeRow, spikeColors[0], seriesNames[0]),
        spikeDataset(afterTrials, afterRow, spikeColors[1], seriesNames[1]),
      ],
    },
    options: {
      responsive: false,
      animation: false,
      events: [],
      devicePixelRatio: 1,
      layout: {padding: {left: padLeft, right: padRight, top: 5, bottom: 35}},
      plugins: {legend: {display: false}, tooltip: {enabled: false}, zeroLine: {raster: true}},
      scales: {
        x: {type: 'linear', min: xMin, max: timeMax, display: false},
        y: {
          type: 'linear',
          min: rasterMin,
          max: rasterMax,
          display: withAxis,
          afterBuildTicks: s => {
            s.ticks = [afterRow(trialTicks[0]), afterRow(trialTicks[1]),
              beforeRow(trialTicks[0]), beforeRow(trialTicks[1])].map(v => ({value: v}));
          },
          afterFit: fixWidth(104),
          grid: {display: false, drawTicks: false},
          border: {display: false},
          ticks: {
            autoSkip: false,
            padding: 28,
            color: '#111',
            font: {size: 24, weight: 'bold'},
            callback: (v, i) => String(trialTicks[i % 2]),
          },
          title: {
            display: true,
            text: 'Trial',
            color: '#111',
            font: {size: 26, weight: 'bold'},
            padding: {top: 8, bottom: 0},
          },
        },
      },
    },
    plugins: withAxis ? [zeroLine, trialBrackets] : [zeroLine],
  });
}

function rateChart(id, before, after, padLeft, padRight, withY, extra) {
  return new Chart(document.getElementById(id), {
    type: 'line',
    data: {
      datasets: [
        rateDataset(before, seriesNames[0], lineColors[0], 1),
        rateDataset(after, seriesNames[1], lineColors[1], 0),
      ],
    },
    options: {
      responsive: false,
      animation: false,
      events: [],
      devicePixelRatio: 1,
      layout: {padding: {left: padLeft, right: padRight, top: 47, bottom: 0}},
      plugins: Object.assign({legend: {display: false}, tooltip: {enabled: false}, zeroLine: {raster: false}}, extra.options),
      scales: {
        x: {
          type: 'linear',
          min: timeMin,
          max: timeMax,
          afterBuildTicks: s => { s.ticks = timeTicks.map(v => ({value: v})); },
          afterFit: fixHeight(80),
          grid: {drawOnChartArea: false, tickLength: 12, color: '#1a1a1a', lineWidth: 2},
          border: {color: '#1a1a1a', width: 2},
          ticks: {autoSkip: false, maxRotation: 0, padding: 42, color: '#111', font: {size: 24, weight: 'bold'}},
        },
        y: {
          type: 'linear',
          min: 0,
          max: rateMax,
          display: withY,
          afterBuildTicks: s => { s.ticks = rateTicks.map(v => ({value: v})); },
          afterFit: fixWidth(104),
          grid: {drawOnChartArea: false, tickLength: 8, color: '#1a1a1a', lineWidth: 2},
          border: {color: '#1a1a1a', width: 2},
          ticks: {autoSkip: false, padding: 16, color: '#111', font: {size: 24, weight: 'bold'}},
        },
      },
    },
    plugins: [zeroLine, stimulusTrace].concat(extra.plugins),
  });
}

rasterChart('rasterLeft', beforeLeftSpikes, afterLeftSpikes, -2, 0, 27, true);
rasterChart('rasterRight', beforeRightSpikes, afterRightSpikes, -2.3, 11, 21, false);

rateChart('rateLeft', beforeLeftRate, afterLeftRate, 0, 27, true, {
  options: {stimulusTrace: {label: 'Light stimulus'}, rateTitle: {text: 'Firing rate(Hz)'}},
  plugins: [significance, rateTitle],
});
rateChart('rateRight', beforeRightRate, afterRightRate, 25, 21, false, {
  options: {stimulusTrace: {label: ''}},
  plugins: [lineLegend],
});
</script>
</body>
</html>
